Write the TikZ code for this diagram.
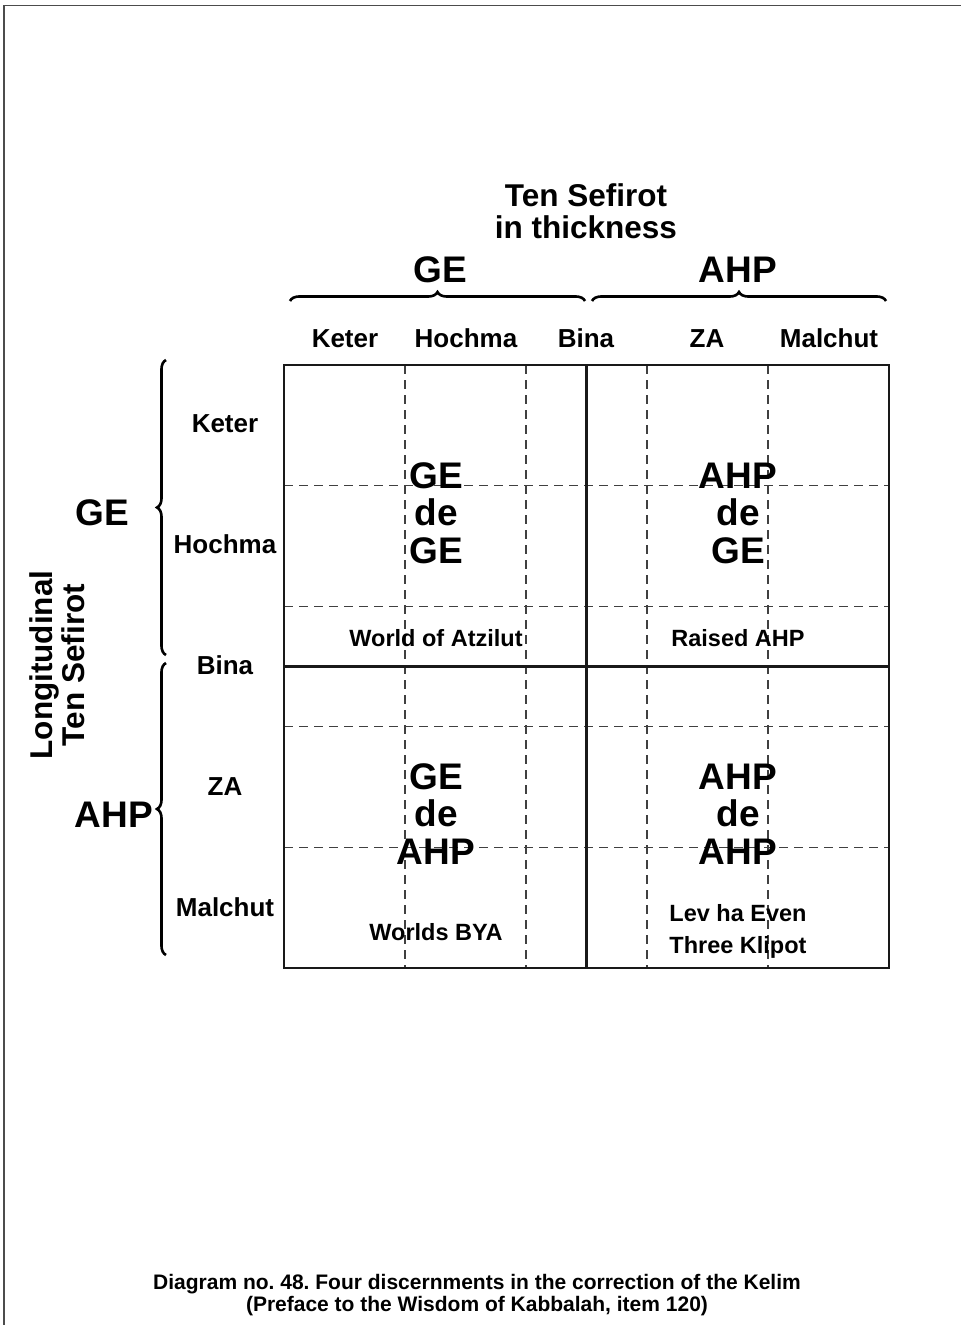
\documentclass[tikz,border=0pt]{standalone}
\usepackage{fontspec}
\setmainfont{Liberation Sans}
\frenchspacing
\usetikzlibrary{decorations.pathreplacing, positioning}
\tikzset{
	sefira/.style   ={font=\bfseries\fontsize{26}{30}\selectfont, inner sep=0pt, anchor=base},
	partlbl/.style  ={font=\bfseries\fontsize{37}{37.5}\selectfont, align=center, inner sep=0pt},
	heading/.style  ={font=\bfseries\fontsize{31.5}{31.5}\selectfont, align=center, inner sep=0pt},
	worldlbl/.style ={font=\bfseries\fontsize{23.5}{32}\selectfont, align=center, inner sep=0pt},
	caption/.style  ={font=\bfseries\fontsize{21}{22}\selectfont, align=center, inner sep=0pt},
	% grid lines
	dashline/.style ={line width=1.2pt, draw=black!75, dash pattern=on 9pt off 6pt},
	solidline/.style={line width=2.4pt, draw=black!90},
	curly/.style    ={decorate, decoration={brace, amplitude=9pt}, line width=2.6pt},
}
\begin{document}
\begin{tikzpicture}[x=1pt, y=-1pt]
	\useasboundingbox (0,0) rectangle (961,1325);
	% page frame
	\draw[line width=1.5pt, black!70] (4,1325) -- (4,5.5) -- (961,5.5);
	% heading
	\node[heading] (thick) at (586,211) {Ten Sefirot\\in thickness};
	\node[partlbl] (topGE) at (440,270) {GE};
	\node[partlbl] (topAHP) at (738,270) {AHP};
	\coordinate (tb1) at (290,301);
	\coordinate (tb2) at (585,301);
	\coordinate (tb3) at (592,301);
	\coordinate (tb4) at (886,301);
	\draw[curly] (tb1) -- (tb2);
	\draw[curly] (tb3) -- (tb4);
	% columns
	\node[sefira] (cKeter) at (345,347) {Keter};
	\node[sefira] (cHochma) at (466,347) {Hochma};
	\node[sefira] (cBina) at (586,347) {Bina};
	\node[sefira] (cZA) at (707,347) {ZA};
	\node[sefira] (cMalchut) at (829,347) {Malchut};
	% rows
	\node[sefira] (rKeter) at (225,432) {Keter};
	\node[sefira] (rHochma) at (225,553) {Hochma};
	\node[sefira] (rBina) at (225,674) {Bina};
	\node[sefira] (rZA) at (225,795) {ZA};
	\node[sefira] (rMalchut) at (225,916) {Malchut};
	\coordinate (lb1) at (166,655);
	\coordinate (lb2) at (166,360);
	\coordinate (lb3) at (166,955);
	\coordinate (lb4) at (166,663);
	\draw[curly] (lb1) -- (lb2);
	\draw[curly] (lb3) -- (lb4);
	\node[partlbl] (leftGE) at (102,513) {GE};
	\node[partlbl] (leftAHP) at (114,815) {AHP};
	\node[heading, rotate=90] (longi) at (57,665) {Longitudinal\\Ten Sefirot};
	% grid
	\foreach \x in {405,526,647,768}
		\draw[dashline] (\x,365) -- (\x,968);
	\foreach \y in {485.6,606.2,726.8,847.4}
		\draw[dashline] (284,\y) -- (889,\y);
	\draw[solidline] (284,365) rectangle (889,968);
	\draw[solidline] (586.5,365) -- (586.5,968);
	\draw[solidline] (284,666.5) -- (889,666.5);
	% four discernments
	\node[partlbl] (GEdeGE) at (436,513) {GE\\de\\GE};
	\node[partlbl] (AHPdeGE) at (738,513) {AHP\\de\\GE};
	\node[partlbl] (GEdeAHP) at (436,814) {GE\\de\\AHP};
	\node[partlbl] (AHPdeAHP) at (738,814) {AHP\\de\\AHP};
	\node[worldlbl] (atzilut) at (436,638) {World of Atzilut};
	\node[worldlbl] (raised) at (738,638) {Raised AHP};
	\node[worldlbl] (bya) at (436,932) {Worlds BYA};
	\node[worldlbl] (klipot) at (738,931) {Lev ha Even\\Three Klipot};
	% caption
	\node[caption] (cap) at (477,1295) {Diagram no. 48. Four discernments in the correction of the Kelim\\(Preface to the Wisdom of Kabbalah, item 120)};
\end{tikzpicture}
\end{document}
